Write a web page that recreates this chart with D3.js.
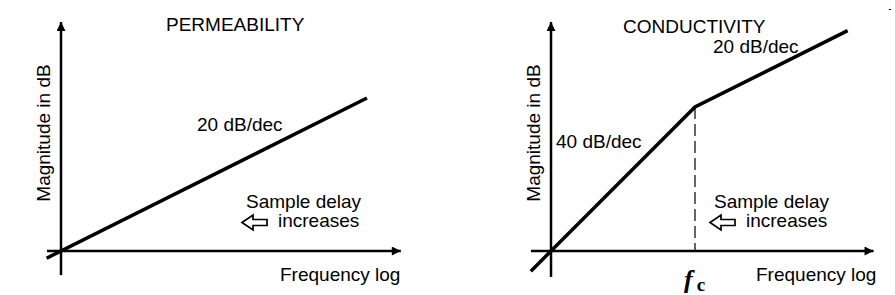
<!DOCTYPE html>
<html><head><meta charset="utf-8">
<script src="https://cdn.jsdelivr.net/npm/d3@7"></script>
<style>
html,body{margin:0;padding:0;background:#fff;}
svg{display:block;}
text{font-family:"Liberation Sans",Arial,sans-serif;font-size:19px;fill:#000;}
</style></head>
<body>
<script>
// ---- data (frequency in decades relative to origin, magnitude in dB) ----
const permFreq = [-0.1, 2.125];
const permMag  = [-2, 42.5];
const condFreq = [-0.14, 1, 2.06];
const condMag  = [-5.6, 40, 61.2];
const cornerFreq = 1;            // f_c
const titles = ["PERMEABILITY", "CONDUCTIVITY"];
const slopeLabels = ["20 dB/dec", "40 dB/dec", "20 dB/dec"];
const yLabel = "Magnitude in dB";
const xLabel = "Frequency log";
const noteLines = ["Sample delay", "increases"];

const W = 895, H = 295;
const svg = d3.select("body").append("svg").attr("width", W).attr("height", H);

const defs = svg.append("defs");
defs.append("marker").attr("id","ah").attr("viewBox","0 0 10 10")
  .attr("refX",10).attr("refY",5).attr("markerWidth",10).attr("markerHeight",9)
  .attr("markerUnits","userSpaceOnUse").attr("orient","auto")
  .append("path").attr("d","M0,0 L10,5 L0,10 Z").attr("fill","#000");

function panel(cfg) {
  const x = d3.scaleLinear().domain([0, 1]).range([cfg.ox, cfg.ox + 144]);
  const y = d3.scaleLinear().domain([0, 10]).range([cfg.oy, cfg.oy - 36]);
  const g = svg.append("g");
  // axes
  g.append("line").attr("x1", x(cfg.xAxis[0])).attr("x2", x(cfg.xAxis[1]))
    .attr("y1", y(0)).attr("y2", y(0)).attr("stroke","#000").attr("stroke-width",2.5)
    .attr("marker-end","url(#ah)");
  g.append("line").attr("x1", x(0)).attr("x2", x(0))
    .attr("y1", y(cfg.yAxis[0])).attr("y2", y(cfg.yAxis[1])).attr("stroke","#000").attr("stroke-width",2.5)
    .attr("marker-end","url(#ah)");
  // response line
  const pts = cfg.freq.map((f, i) => [f, cfg.mag[i]]);
  const line = d3.line().x(d => x(d[0])).y(d => y(d[1]));
  if (cfg.corner !== undefined) {
    const cm = cfg.mag[cfg.freq.indexOf(cfg.corner)];
    g.append("line").attr("x1", x(cfg.corner)).attr("x2", x(cfg.corner))
      .attr("y1", y(cm)).attr("y2", y(0)).attr("stroke","#000").attr("stroke-width",1.2)
      .attr("stroke-dasharray","12,5");
  }
  g.append("path").attr("d", line(pts)).attr("fill","none").attr("stroke","#000")
    .attr("stroke-width",3.5).attr("stroke-linejoin","miter");
  // y label
  g.append("text").attr("transform", `translate(${cfg.ylx},133) rotate(-90)`)
    .attr("text-anchor","middle").text(yLabel);
  // x label
  g.append("text").attr("x", cfg.xlx).attr("y", 281).text(xLabel);
  // title
  g.append("text").attr("x", cfg.title[0]).attr("y", cfg.title[1]).text(cfg.titleText);
  // note with hollow arrow
  const n = cfg.note;
  g.append("text").attr("x", n[0] + 4).attr("y", 208).text(noteLines[0]);
  g.append("text").attr("x", n[0] + 36).attr("y", 227).text(noteLines[1]);
  const ax = n[0], ay = 222.5;
  g.append("path").attr("d",
    `M${ax},${ay} L${ax+11},${ay-7.5} L${ax+11},${ay-3} L${ax+25},${ay-3} L${ax+25},${ay+3} L${ax+11},${ay+3} L${ax+11},${ay+7.5} Z`)
    .attr("fill","#fff").attr("stroke","#000").attr("stroke-width",1.7).attr("stroke-linejoin","miter");
  return {x, y, g};
}

const p1 = panel({ox:61, oy:251, xAxis:[-0.097, 2.36], yAxis:[-6.7, 63.6],
  freq: permFreq, mag: permMag, ylx: 50, xlx: 280, title:[166,31], titleText: titles[0], note:[242]});
p1.g.append("text").attr("x",197).attr("y",131).text(slopeLabels[0]);

const p2 = panel({ox:551, oy:251, xAxis:[-0.139, 2.24], yAxis:[-7.2, 63.6],
  freq: condFreq, mag: condMag, corner: cornerFreq, ylx: 540, xlx: 756, title:[623,33], titleText: titles[1], note:[710]});
p2.g.append("text").attr("x",556).attr("y",148).text(slopeLabels[1]);
p2.g.append("text").attr("x",713).attr("y",53).text(slopeLabels[2]);
// f_c label
const fcx = p2.x(cornerFreq);
const fc = p2.g.append("text").attr("x", fcx - 11).attr("y", 288)
  .style("font-family","'Liberation Serif','Times New Roman',serif");
fc.append("tspan").style("font-size","26px").style("font-style","italic").style("font-weight","bold").text("f");
fc.append("tspan").attr("dx",4).attr("dy",3).style("font-size","19px").style("font-weight","bold").text("c");
// small stray mark at top right
svg.append("rect").attr("x",889).attr("y",9).attr("width",2).attr("height",1).attr("fill","#000");
</script>
</body></html>
